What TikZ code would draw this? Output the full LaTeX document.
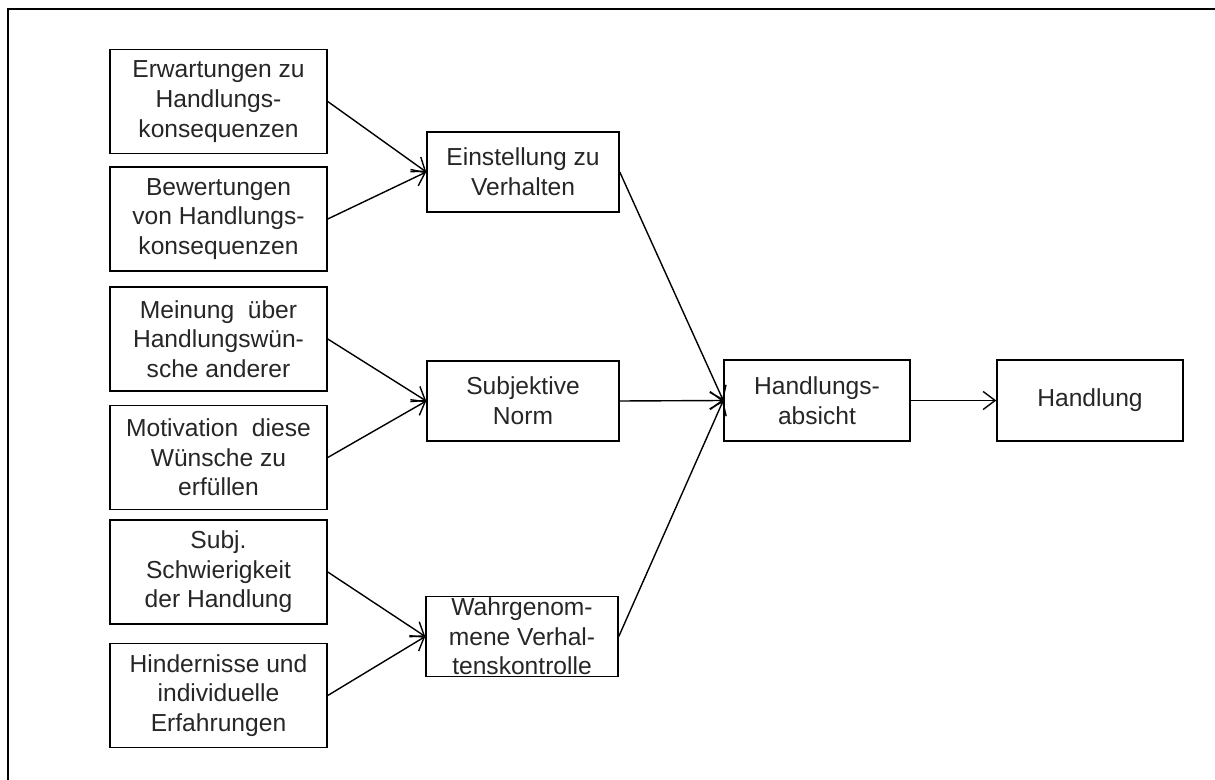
\documentclass[tikz,border=0pt]{standalone}
\usepackage{fontspec}
\setmainfont{Liberation Sans}
\usetikzlibrary{arrows.meta}

\begin{document}
\begin{tikzpicture}[x=0.5pt,y=-0.5pt,
    srcbox/.style={draw,line width=0.75pt,minimum width=108.5pt,minimum height=52pt,
      inner sep=0pt,align=center,text=black!85,font=\fontsize{12.3}{14.8}\selectfont},
    midbox/.style={srcbox,minimum width=96pt,minimum height=40pt},
    endbox/.style={srcbox,minimum width=93pt,minimum height=40.5pt},
    arr/.style={-{Straight Barb[length=6pt,width=9pt]},line width=0.7pt}]
    \useasboundingbox (0,0) rectangle (1215,780);
    \draw[line width=1.3pt] (8,780)--(8,9)--(1215,9);

    % linke Spalte
    \node[srcbox] (erw) at (218.5,101.5) {Erwartungen zu\\Handlungs-\\konsequenzen};
    \node[srcbox] (bew) at (218.5,219) {Bewertungen\\von Handlungs-\\konsequenzen};
    \node[srcbox] (mei) at (218.5,339) {Meinung \ über\\Handlungswün-\\sche anderer};
    \node[srcbox] (mot) at (218.5,457.5) {Motivation \ diese\\Wünsche zu\\erfüllen};
    \node[srcbox] (sch) at (218.5,572) {Subj.\\Schwierigkeit\\der Handlung};
    \node[srcbox] (hin) at (218.5,695.5) {Hindernisse und\\individuelle\\Erfahrungen};

    % mittlere Spalte
    \node[midbox] (ein) at (523,172) {Einstellung zu\\Verhalten};
    \node[midbox] (norm) at (523,401) {Subjektive\\Norm};
    \node[midbox,label={[align=center,text=black!85,font=\fontsize{12.3}{14.8}\selectfont]center:Wahrgenom-\\mene Verhal-\\tenskontrolle}] (wahr) at (522,636.5) {};

    % rechts
    \node[endbox] (abs) at (817,400.5) {Handlungs-\\absicht};
    \node[endbox] (hdl) at (1090,400.5) {Handlung};

    \draw[arr] (erw.east)--(ein.west);
    \draw[arr] (bew.east)--(ein.west);
    \draw[arr] (mei.east)--(norm.west);
    \draw[arr] (mot.east)--(norm.west);
    \draw[arr] (sch.east)--(wahr.west);
    \draw[arr] (hin.east)--(wahr.west);

    \draw[arr] (ein.east)--(abs.west);
    \draw[arr] (norm.east)--(abs.west);
    \draw[arr] (wahr.east)--(abs.west);
    \draw[arr] (abs.east)--(hdl.west);
\end{tikzpicture}
\end{document}
